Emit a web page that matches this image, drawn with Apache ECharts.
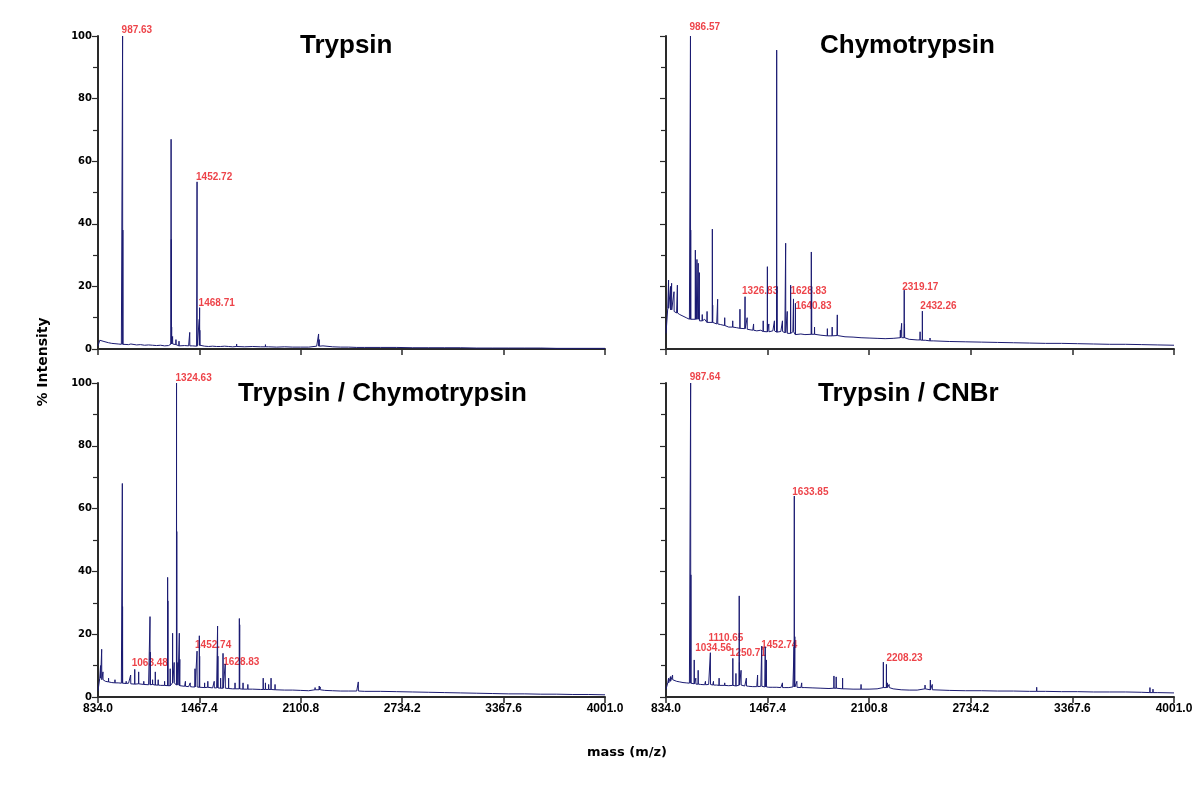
<!DOCTYPE html>
<html>
<head>
<meta charset="utf-8">
<title>Digest spectra</title>
<script src="https://cdn.jsdelivr.net/npm/echarts@6/dist/echarts.min.js"></script>
<style>
  html, body { margin: 0; padding: 0; background: #fff; }
  #chart { width: 1200px; height: 812px; }
</style>
</head>
<body>
<div id="chart"></div>
<script>
// x tick labels (mass)
var xTicks = [834.0, 1467.4, 2100.8, 2734.2, 3367.6, 4001.0];

var baseMz = [834,845,860,880,900,920,940,960,980,1000,
  1025,1050,1075,1100,1125,1150,1175,1200,1225,1250,
  1275,1300,1325,1350,1375,1400,1425,1450,1475,1500,
  1525,1550,1575,1600,1625,1650,1675,1700,1750,1800,
  1850,1900,1950,2000,2050,2100,2150,2200,2250,2300,
  2350,2400,2450,2500,2600,2700,2800,2900,3000,3100,
  3200,3300,3400,3500,3600,3700,3800,3900,4001];

// baseline % intensity, one value per baseMz
var trypsinBase = [1.0,2.8,3.0,2.4,2.0,1.8,1.7,1.6,1.5,1.5,
  1.4,1.6,1.3,1.4,1.2,1.3,1.2,1.1,1.2,1.0,
  1.1,1.6,1.4,1.0,1.1,1.0,1.0,0.9,1.2,0.9,
  0.8,0.9,0.8,0.8,0.9,0.8,0.7,0.8,0.7,0.8,
  0.7,0.7,0.6,0.7,0.6,0.6,0.6,0.9,1.0,0.7,
  0.6,0.6,0.5,0.5,0.5,0.5,0.4,0.4,0.4,0.4,
  0.3,0.3,0.3,0.3,0.3,0.2,0.2,0.2,0.2];
var chymoBase = [5.0,13.0,12.5,12.0,11.5,11.0,10.5,10.0,9.5,10.0,
  9.5,9.0,9.5,8.5,8.5,8.0,7.8,7.5,7.0,7.0,
  6.8,6.6,6.5,6.3,6.0,5.8,6.0,5.6,5.5,5.8,
  5.4,5.6,5.2,5.0,5.5,4.6,4.8,4.6,4.7,4.4,
  4.2,4.3,3.9,3.8,3.6,3.5,3.4,3.3,3.4,3.6,
  3.1,2.9,2.8,2.6,2.4,2.3,2.2,2.1,2.0,1.9,
  1.8,1.8,1.7,1.6,1.5,1.5,1.4,1.3,1.2];
var tcBase = [2.0,6.0,5.5,5.0,4.8,4.6,4.5,4.5,4.4,4.3,
  4.4,4.2,4.1,4.2,4.0,3.9,4.0,3.8,3.7,3.7,
  3.6,4.5,3.8,3.6,3.4,3.3,3.2,3.2,3.1,3.0,
  3.1,2.9,2.9,2.8,2.8,2.7,2.6,2.6,2.5,2.5,
  2.4,2.4,2.3,2.2,2.2,2.1,2.0,2.3,2.1,2.0,
  1.9,1.9,1.9,1.8,1.8,1.7,1.6,1.5,1.4,1.3,
  1.2,1.1,1.0,1.0,0.9,0.9,0.8,0.8,0.7];
var cnbrBase = [2.5,4.5,5.0,5.5,5.0,4.8,4.6,4.5,4.4,4.2,
  4.1,4.0,3.9,4.0,3.8,3.8,3.7,3.7,3.6,3.7,
  3.5,3.8,3.5,3.4,3.3,3.3,3.4,3.2,3.1,3.1,
  3.1,3.0,3.0,3.0,3.2,3.1,3.0,3.0,2.9,2.8,
  2.7,2.8,2.6,2.5,2.5,2.5,2.6,3.0,2.6,2.3,
  2.2,2.2,2.6,2.3,2.1,2.0,2.0,1.9,1.9,1.8,
  1.8,1.7,1.7,1.6,1.6,1.6,1.5,1.4,1.3];

// peaks [mass, % intensity]
var trypsinPeaks = [[858,3.2],[872,3.0],[987.63,100],[989.1,38],[1040,2.0],[1100,1.8],
  [1230,1.8],[1290.6,67],[1292.0,35],[1294,7],[1300,4],[1321,3],[1340,2.5],[1407,5.3],
  [1452.72,53.4],[1466.5,9.5],[1468.71,13.2],[1470,6],[1700,1.6],[1880,1.4],
  [2212,4.8],[2216,3.0],[2240,1.6]];
var chymoPeaks = [[850,22],[862,20],[869,21],[884,18.3],[905,20.4],[986.57,100],[988,38],
  [1017,31.6],[1022,16],[1027,28.6],[1035,27.4],[1042,24.4],[1060,11],[1090,12],
  [1123,38.3],[1125,14],[1156,15.9],[1200,10],[1250,9],[1295,12.7],[1326.83,16.7],
  [1340,10],[1380,8],[1440,9],[1466,26.3],[1475,8],[1510,9],[1524,95.5],[1526,20],
  [1560,9],[1580,33.8],[1590,12],[1611,20.4],[1628.83,16],[1640.83,14.6],[1740,31],
  [1742,20],[1760,7],[1840,6.5],[1870,7],[1902,10.9],[2295,6],[2303,8.2],[2319.17,18.8],
  [2321,8],[2418,5.5],[2432.26,12.1],[2480,3.5],[2700,2.8],[3100,2.5],[3600,2]];
var tcPeaks = [[850,10],[857,15.2],[865,8],[900,6],[940,5.5],[986,68],[987.5,28.8],
  [1010,5],[1038,7],[1063.48,8.8],[1088,8],[1120,5],[1159,25.6],[1160.5,14.3],[1175,5.5],
  [1192,8],[1210,5.5],[1250,5],[1269,38.1],[1270.5,30.6],[1285,9],[1300,20.3],[1310,11],
  [1324.63,100],[1326,52.7],[1333,11],[1342,20.3],[1345,12],[1380,5],[1410,4.5],[1440,9],
  [1452.74,14.6],[1467,19.5],[1469,13],[1500,4.5],[1520,5],[1560,5],[1581,22.6],[1583,13],
  [1600,6],[1615,13.9],[1628.83,10.5],[1650,6],[1690,4.5],[1717,25],[1719,23],[1740,4.5],
  [1770,4],[1866,6],[1880,4.5],[1900,4],[1915,6],[1940,4],[2190,3],[2216,3.5],[2222,3.2],
  [2460,4.8],[2470,2.5]];
var cnbrPeaks = [[850,6],[862,6.5],[875,7],[987.64,100],[989,38.9],[1010,11.8],[1020,6],
  [1034.56,8.5],[1080,5],[1110.65,14.1],[1130,5],[1165,6],[1200,4.5],[1250.71,12.3],
  [1270,7.5],[1290.5,32.2],[1292,11],[1302,8.5],[1335,6],[1405,7],[1431,16.2],
  [1452.74,16],[1460,11.8],[1560,4.5],[1632.5,16],[1633.85,64],[1637,19.2],[1650,5],
  [1680,4.5],[1881,6.7],[1895,6.4],[1935,6],[2050,4],[2189,11.1],[2208.23,10.4],
  [2214,4.5],[2225,4],[2449,3.8],[2482,5.4],[2494,4],[3145,3.1],[3851,3],[3870,2.5]];

// labelled peaks
var trypsinLabels = ['987.63','1452.72','1468.71'];
var chymoLabels = ['986.57','1326.83','1628.83','1640.83','2319.17','2432.26'];
var tcLabels = ['1063.48','1324.63','1452.74','1628.83'];
var cnbrLabels = ['987.64','1034.56','1110.65','1250.71','1452.74','1633.85','2208.23'];

var panelTitles = ['Trypsin', 'Chymotrypsin', 'Trypsin / Chymotrypsin', 'Trypsin / CNBr'];

// label offsets in px [dx, dy] (style only)
var nudges = [
  {'987.63':[-1,-6], '1452.72':[-1,-5], '1468.71':[-1,-4]},
  {'986.57':[-1,-9], '1326.83':[-3,-5], '1628.83':[-3,-8], '1640.83':[0,3], '2319.17':[-2,-3], '2432.26':[-2,-5]},
  {'1063.48':[-3,-6], '1324.63':[-1,-5], '1452.74':[-2,-6], '1628.83':[-2,-2]},
  {'987.64':[-1,-6], '1034.56':[-3,-22], '1110.65':[-2,-14], '1250.71':[-3,-5], '1452.74':[-4,-2], '1633.85':[-2,-4], '2208.23':[0,-6]}
];

var FONT = '"Liberation Sans", Arial, Helvetica, sans-serif';

function buildSpectrum(base, peaks) {
  var pts = base.map(function (v, i) { return [baseMz[i], v]; });
  peaks.forEach(function (p) {
    // foot of the peak sits on the nearest baseline sample
    var k = 0, best = Infinity;
    for (var i = 0; i < baseMz.length; i++) {
      var d = Math.abs(baseMz[i] - p[0]);
      if (d < best) { best = d; k = i; }
    }
    pts.push([p[0] - 0.7, base[k]], [p[0], p[1]], [p[0] + 0.7, base[k]]);
  });
  pts.sort(function (a, b) { return a[0] - b[0]; });
  return pts;
}

function buildLabels(labels, peaks, nudge) {
  return labels.map(function (t) {
    var m = parseFloat(t), h = 0;
    peaks.forEach(function (p) { if (p[0] === m) h = p[1]; });
    var off = nudge[t] || [-1, -5];
    return { value: [m, h, t], label: { offset: off } };
  });
}

var grids = [
  { left: 98, top: 36, width: 507, height: 313 },
  { left: 666, top: 36, width: 508, height: 313 },
  { left: 98, top: 383, width: 507, height: 314 },
  { left: 666, top: 383, width: 508, height: 314 }
];

var bases = [trypsinBase, chymoBase, tcBase, cnbrBase];
var peakSets = [trypsinPeaks, chymoPeaks, tcPeaks, cnbrPeaks];
var labelSets = [trypsinLabels, chymoLabels, tcLabels, cnbrLabels];

var xAxes = [], yAxes = [], series = [];
for (var i = 0; i < 4; i++) {
  xAxes.push({
    type: 'value', gridIndex: i, min: 834, max: 4001,
    axisLine: { show: true, onZero: false, lineStyle: { color: '#2a2a2a', width: 2 } },
    axisTick: { show: true, customValues: xTicks, length: 6, lineStyle: { color: '#2a2a2a', width: 1.5 } },
    axisLabel: {
      show: i >= 2, customValues: xTicks, margin: 6,
      color: '#000', fontWeight: 'bold', fontSize: 12, fontFamily: FONT,
      formatter: function (v) { return v.toFixed(1); }
    },
    splitLine: { show: false }
  });
  yAxes.push({
    type: 'value', gridIndex: i, min: 0, max: 100, interval: 20,
    axisLine: { show: true, lineStyle: { color: '#2a2a2a', width: 2 } },
    axisTick: { show: true, length: 6, lineStyle: { color: '#2a2a2a', width: 1.2 } },
    minorTick: { show: true, splitNumber: 2, length: 5, lineStyle: { color: '#2a2a2a', width: 1.2 } },
    axisLabel: {
      show: i % 2 === 0, margin: 6,
      color: '#000', fontWeight: 'bold', fontSize: 10, fontFamily: '"DejaVu Sans", sans-serif'
    },
    splitLine: { show: false }
  });
  series.push({
    type: 'line', xAxisIndex: i, yAxisIndex: i,
    data: buildSpectrum(bases[i], peakSets[i]),
    showSymbol: false, symbol: 'none',
    lineStyle: { color: '#1b1b72', width: 1 },
    silent: true
  });
  series.push({
    type: 'scatter', xAxisIndex: i, yAxisIndex: i,
    data: buildLabels(labelSets[i], peakSets[i], nudges[i]),
    symbolSize: 0,
    silent: true,
    label: {
      show: true, position: 'inside', align: 'left', verticalAlign: 'middle',
      color: '#e8141c', fontWeight: 'bold', fontSize: 10, fontFamily: FONT,
      formatter: function (p) { return p.value[2]; }
    }
  });
}

var titlePos = [[300, 46], [820, 46], [238, 394], [818, 394]];
var graphics = panelTitles.map(function (t, i) {
  return {
    type: 'text', x: titlePos[i][0], y: titlePos[i][1],
    style: { text: t, fill: '#000', font: 'bold 26px ' + FONT, align: 'left', verticalAlign: 'middle' }
  };
});
graphics.push({
  type: 'text', x: 43, y: 362, rotation: Math.PI / 2,
  style: { text: '% Intensity', fill: '#000', font: 'bold 14px "DejaVu Sans", sans-serif', align: 'center', verticalAlign: 'middle' }
});
graphics.push({
  type: 'text', x: 627, y: 753,
  style: { text: 'mass (m/z)', fill: '#000', font: 'bold 13px "DejaVu Sans", sans-serif', align: 'center', verticalAlign: 'middle' }
});

var myChart = echarts.init(document.getElementById('chart'));
myChart.setOption({
  animation: false,
  backgroundColor: '#fff',
  grid: grids,
  xAxis: xAxes,
  yAxis: yAxes,
  series: series,
  graphic: graphics
});
</script>
</body>
</html>
